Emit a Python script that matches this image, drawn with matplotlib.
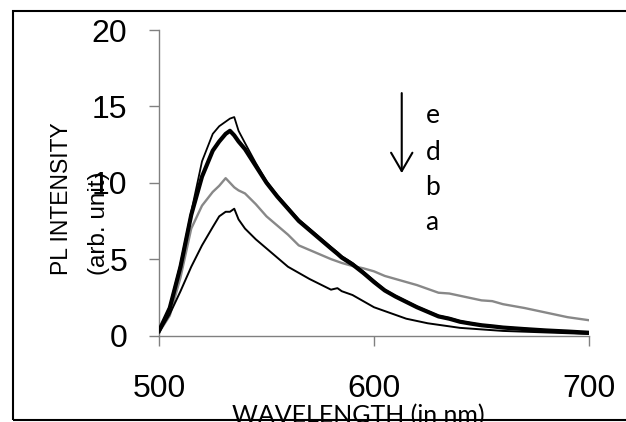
import matplotlib
matplotlib.use("Agg")
import matplotlib.pyplot as plt
from matplotlib.patches import Rectangle

wavelength = [500, 505, 510, 515, 520, 525, 528, 531, 533, 535, 537, 540, 545, 550, 555,
              560, 565, 570, 575, 580, 583, 585, 590, 595, 600, 605, 610, 615, 620, 625,
              630, 635, 640, 645, 650, 655, 660, 670, 680, 690, 700]

series_e = [0.3, 1.9, 4.7, 8.1, 11.4, 13.2, 13.7, 14.0, 14.2, 14.3, 13.4, 12.6, 11.3, 10.1, 9.2,
            8.4, 7.6, 7.0, 6.4, 5.8, 5.45, 5.2, 4.75, 4.2, 3.6, 3.0, 2.6, 2.25, 1.9, 1.6,
            1.3, 1.15, 0.95, 0.82, 0.7, 0.62, 0.55, 0.45, 0.35, 0.28, 0.2]
series_d = [0.3, 1.8, 4.5, 7.9, 10.4, 12.1, 12.7, 13.2, 13.4, 13.1, 12.7, 12.2, 11.1, 10.0, 9.1,
            8.3, 7.5, 6.9, 6.3, 5.7, 5.35, 5.1, 4.65, 4.1, 3.5, 2.95, 2.55, 2.2, 1.85, 1.55,
            1.25, 1.1, 0.9, 0.78, 0.67, 0.6, 0.52, 0.42, 0.33, 0.26, 0.18]
series_b = [0.2, 1.3, 3.8, 7.0, 8.5, 9.4, 9.8, 10.3, 10.0, 9.7, 9.5, 9.3, 8.6, 7.8, 7.2,
            6.6, 5.9, 5.6, 5.3, 5.0, 4.85, 4.75, 4.55, 4.4, 4.2, 3.9, 3.7, 3.5, 3.3, 3.05,
            2.8, 2.75, 2.6, 2.45, 2.3, 2.25, 2.05, 1.8, 1.5, 1.2, 1.0]
series_a = [0.2, 1.4, 2.9, 4.5, 5.9, 7.1, 7.8, 8.1, 8.1, 8.3, 7.6, 7.0, 6.3, 5.7, 5.1,
            4.5, 4.1, 3.7, 3.35, 3.0, 3.1, 2.9, 2.65, 2.25, 1.85, 1.6, 1.35, 1.1, 0.95, 0.8,
            0.7, 0.6, 0.5, 0.45, 0.4, 0.35, 0.3, 0.25, 0.2, 0.15, 0.1]

curve_labels = ["e", "d", "b", "a"]
label_y = [14.43, 12.0, 9.72, 7.43]
x_ticks = [500, 600, 700]
y_ticks = [0, 5, 10, 15, 20]

W, H = 626, 422
fig = plt.figure(figsize=(W / 100, H / 100), dpi=100)
ax = fig.add_axes([159 / W, 1 - 335.5 / H, (589 - 159) / W, (335.5 - 30) / H])

ax.plot(wavelength, series_b, color="#888888", lw=1.7, zorder=2)
ax.plot(wavelength, series_a, color="black", lw=1.4, zorder=3)
ax.plot(wavelength, series_d, color="black", lw=3.0, zorder=4)
ax.plot(wavelength, series_e, color="black", lw=1.3, zorder=5)

ax.set_xlim(500, 700)
ax.set_ylim(0, 20)
ax.set_xticks(x_ticks)
ax.set_yticks(y_ticks)
ax.set_xticklabels([str(t) for t in x_ticks], fontfamily="Liberation Sans", fontsize=23)
ax.set_yticklabels([str(t) for t in y_ticks], fontfamily="Liberation Sans", fontsize=23)
for s in ["top", "right"]:
    ax.spines[s].set_visible(False)
for s in ["left", "bottom"]:
    ax.spines[s].set_color("#808080")
    ax.spines[s].set_linewidth(1.0)
ax.tick_params(axis="x", direction="out", length=7, width=1, color="#808080", pad=21)
ax.tick_params(axis="y", direction="out", length=7, width=1, color="#808080", pad=16)

# arrow and labels
ax.annotate("", xy=(612.9, 10.63), xytext=(612.9, 15.87),
            arrowprops=dict(arrowstyle="->,head_length=0.55,head_width=0.32",
                            mutation_scale=24, lw=1.5, color="black",
                            shrinkA=0, shrinkB=0))
for lab, yy in zip(curve_labels, label_y):
    ax.text(624.0, yy, lab, fontfamily="Lato", fontsize=19, ha="left", va="center")

# axis titles
fig.text(61 / W, 1 - 275 / H, "PL INTENSITY", rotation=90, ha="center", va="bottom",
         fontfamily="Liberation Sans", fontsize=16.5)
fig.text(99 / W, 1 - 275 / H, "(arb. unit)", rotation=90, ha="center", va="bottom",
         fontfamily="Liberation Sans", fontsize=17.5)
fig.text(358.5 / W, 1 - 404 / H, "WAVELENGTH (in nm)", ha="center", va="top",
         fontfamily="Lato", fontsize=18)

# outer frame
fig.add_artist(Rectangle((12.5 / W, 1 - 420 / H), 1.0, (420 - 10.7) / H,
                         transform=fig.transFigure, fill=False, lw=1.5,
                         edgecolor="black", zorder=10))

fig.savefig("out.png", dpi=100)
